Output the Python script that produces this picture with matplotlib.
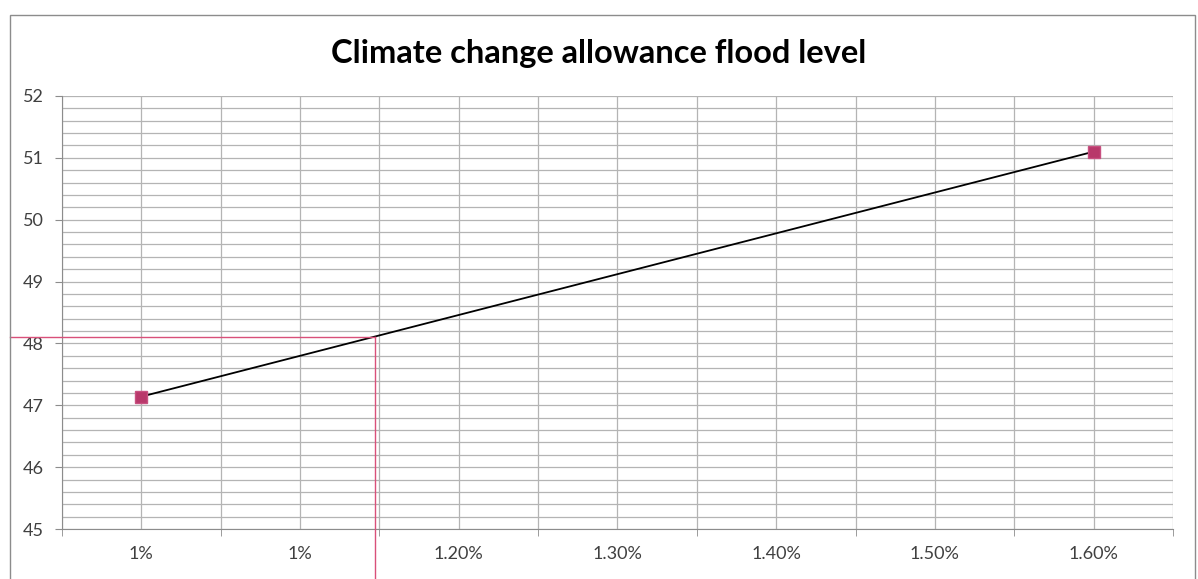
import numpy as np
import matplotlib.pyplot as plt
from matplotlib.patches import Rectangle
from matplotlib.ticker import FixedLocator, MultipleLocator

# data
rate = [1.0, 1.6]            # climate change allowance (%)
level = [47.14, 51.10]       # flood level
x_labels = ["1%", "1%", "1.20%", "1.30%", "1.40%", "1.50%", "1.60%"]
x_ticks = [1.0, 1.1, 1.2, 1.3, 1.4, 1.5, 1.6]
read_x = 1.147               # reading line
read_y = 48.11

plt.rcParams['font.family'] = ['Lato', 'DejaVu Sans']

fig = plt.figure(figsize=(11.98, 5.79), dpi=100)

# chart frame
fig.patches.append(Rectangle((10 / 1198, -0.1), 1185 / 1198, 1.1 - 15 / 579,
                             transform=fig.transFigure, fill=False,
                             edgecolor="#8c8c8c", linewidth=1.0))

ax = fig.add_axes([62 / 1198, 1 - 529 / 579, (1173 - 62) / 1198, (529 - 96) / 579])
ax.set_xlim(0.95, 1.65)
ax.set_ylim(45, 52)

# grid
ax.yaxis.set_minor_locator(MultipleLocator(0.2))
ax.xaxis.set_minor_locator(FixedLocator(np.arange(0.95, 1.66, 0.05)))
ax.grid(which="both", color="#b4b4b4", linewidth=0.9)
ax.set_axisbelow(True)

ax.set_xticks(x_ticks)
ax.set_xticklabels(x_labels)
ax.tick_params(axis="x", which="major", length=0, pad=12, labelsize=13, labelcolor="#404040")
ax.tick_params(axis="x", which="minor", length=5, color="#8c8c8c", direction="out")
ax.set_yticks(range(45, 53))
ax.tick_params(axis="y", which="major", length=5, color="#8c8c8c", labelsize=13,
               labelcolor="#404040", pad=8)
ax.tick_params(axis="y", which="minor", length=0)

for s in ["top", "right"]:
    ax.spines[s].set_visible(False)
for s in ["left", "bottom"]:
    ax.spines[s].set_color("#8c8c8c")

# data line
ax.plot(rate, level, color="black", linewidth=1.3, zorder=3)
ax.plot(rate, level, linestyle="none", marker="s", markersize=9,
        markerfacecolor="#b8386a", markeredgecolor="#c85080", zorder=4)

# reading lines (extend outside axes)
ax.plot([0.917, read_x], [read_y, read_y], color="#d9507a", linewidth=1.0,
        clip_on=False, zorder=5)
ax.plot([read_x, read_x], [read_y, 44.0], color="#d9507a", linewidth=1.0,
        clip_on=False, zorder=5)

fig.text(0.5, 1 - 53 / 579, "Climate change allowance flood level", ha="center",
         va="center", fontsize=23.5, fontweight="bold", color="black")

fig.savefig("out.png", dpi=100)
